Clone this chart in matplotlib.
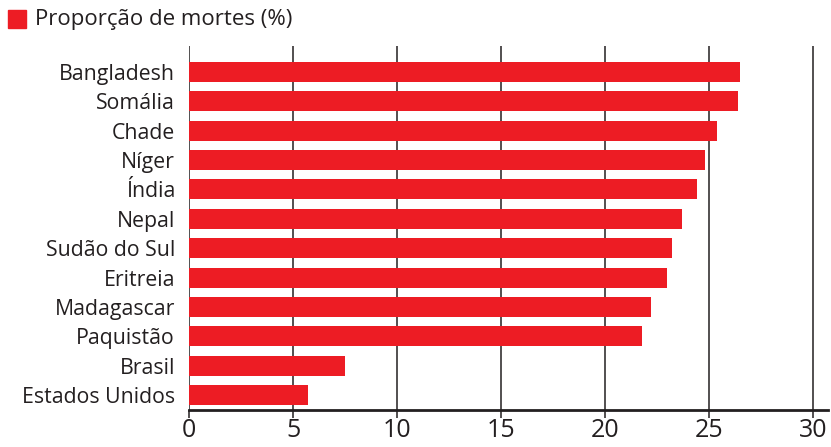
import matplotlib.pyplot as plt
import matplotlib.patches as mpatches

# Dados
paises = ['Bangladesh', 'Somália', 'Chade', 'Níger', 'Índia', 'Nepal',
          'Sudão do Sul', 'Eritreia', 'Madagascar', 'Paquistão', 'Brasil',
          'Estados Unidos']
mortes = [26.5, 26.4, 25.4, 24.8, 24.4, 23.7, 23.2, 23.0, 22.2, 21.8, 7.5, 5.7]
ticks_x = [0, 5, 10, 15, 20, 25, 30]

vermelho = '#ED1C24'
cinza = '#231F20'

plt.rcParams['font.family'] = ['Open Sans', 'DejaVu Sans']

fig = plt.figure(figsize=(8.31, 4.47), dpi=100)
ax = fig.add_axes([189 / 831, 1 - 410 / 447, (828 - 189) / 831, (410 - 46) / 447])

# barras de cima para baixo
pos = list(range(len(paises)))[::-1]
ax.barh(pos, mortes, height=0.68, color=vermelho, zorder=3)

ax.set_xlim(0, 30.72)
ax.set_ylim(-0.51, len(paises) - 1 + 0.886)
ax.set_yticks(pos)
ax.set_yticklabels(paises, fontsize=15.3, color=cinza)
ax.set_xticks(ticks_x)
ax.set_xticklabels([str(t) for t in ticks_x], fontsize=18, color=cinza)

for t in ticks_x:
    ax.axvline(t, color=cinza, lw=1.1, zorder=1)

for s in ['top', 'right', 'left']:
    ax.spines[s].set_visible(False)
ax.spines['bottom'].set_linewidth(2)
ax.spines['bottom'].set_color(cinza)
ax.tick_params(axis='y', length=0, pad=10)
ax.tick_params(axis='x', length=6, width=1.1, color=cinza, pad=0)

# legenda
fig.patches.append(mpatches.Rectangle((8 / 831, 1 - 28 / 447), 18 / 831, 18 / 447,
                                      transform=fig.transFigure, color=vermelho))
fig.text(35 / 831, 1 - 19 / 447, 'Proporção de mortes (%)', fontsize=16,
         color=cinza, va='center', ha='left')

fig.savefig('out.png', dpi=100)
